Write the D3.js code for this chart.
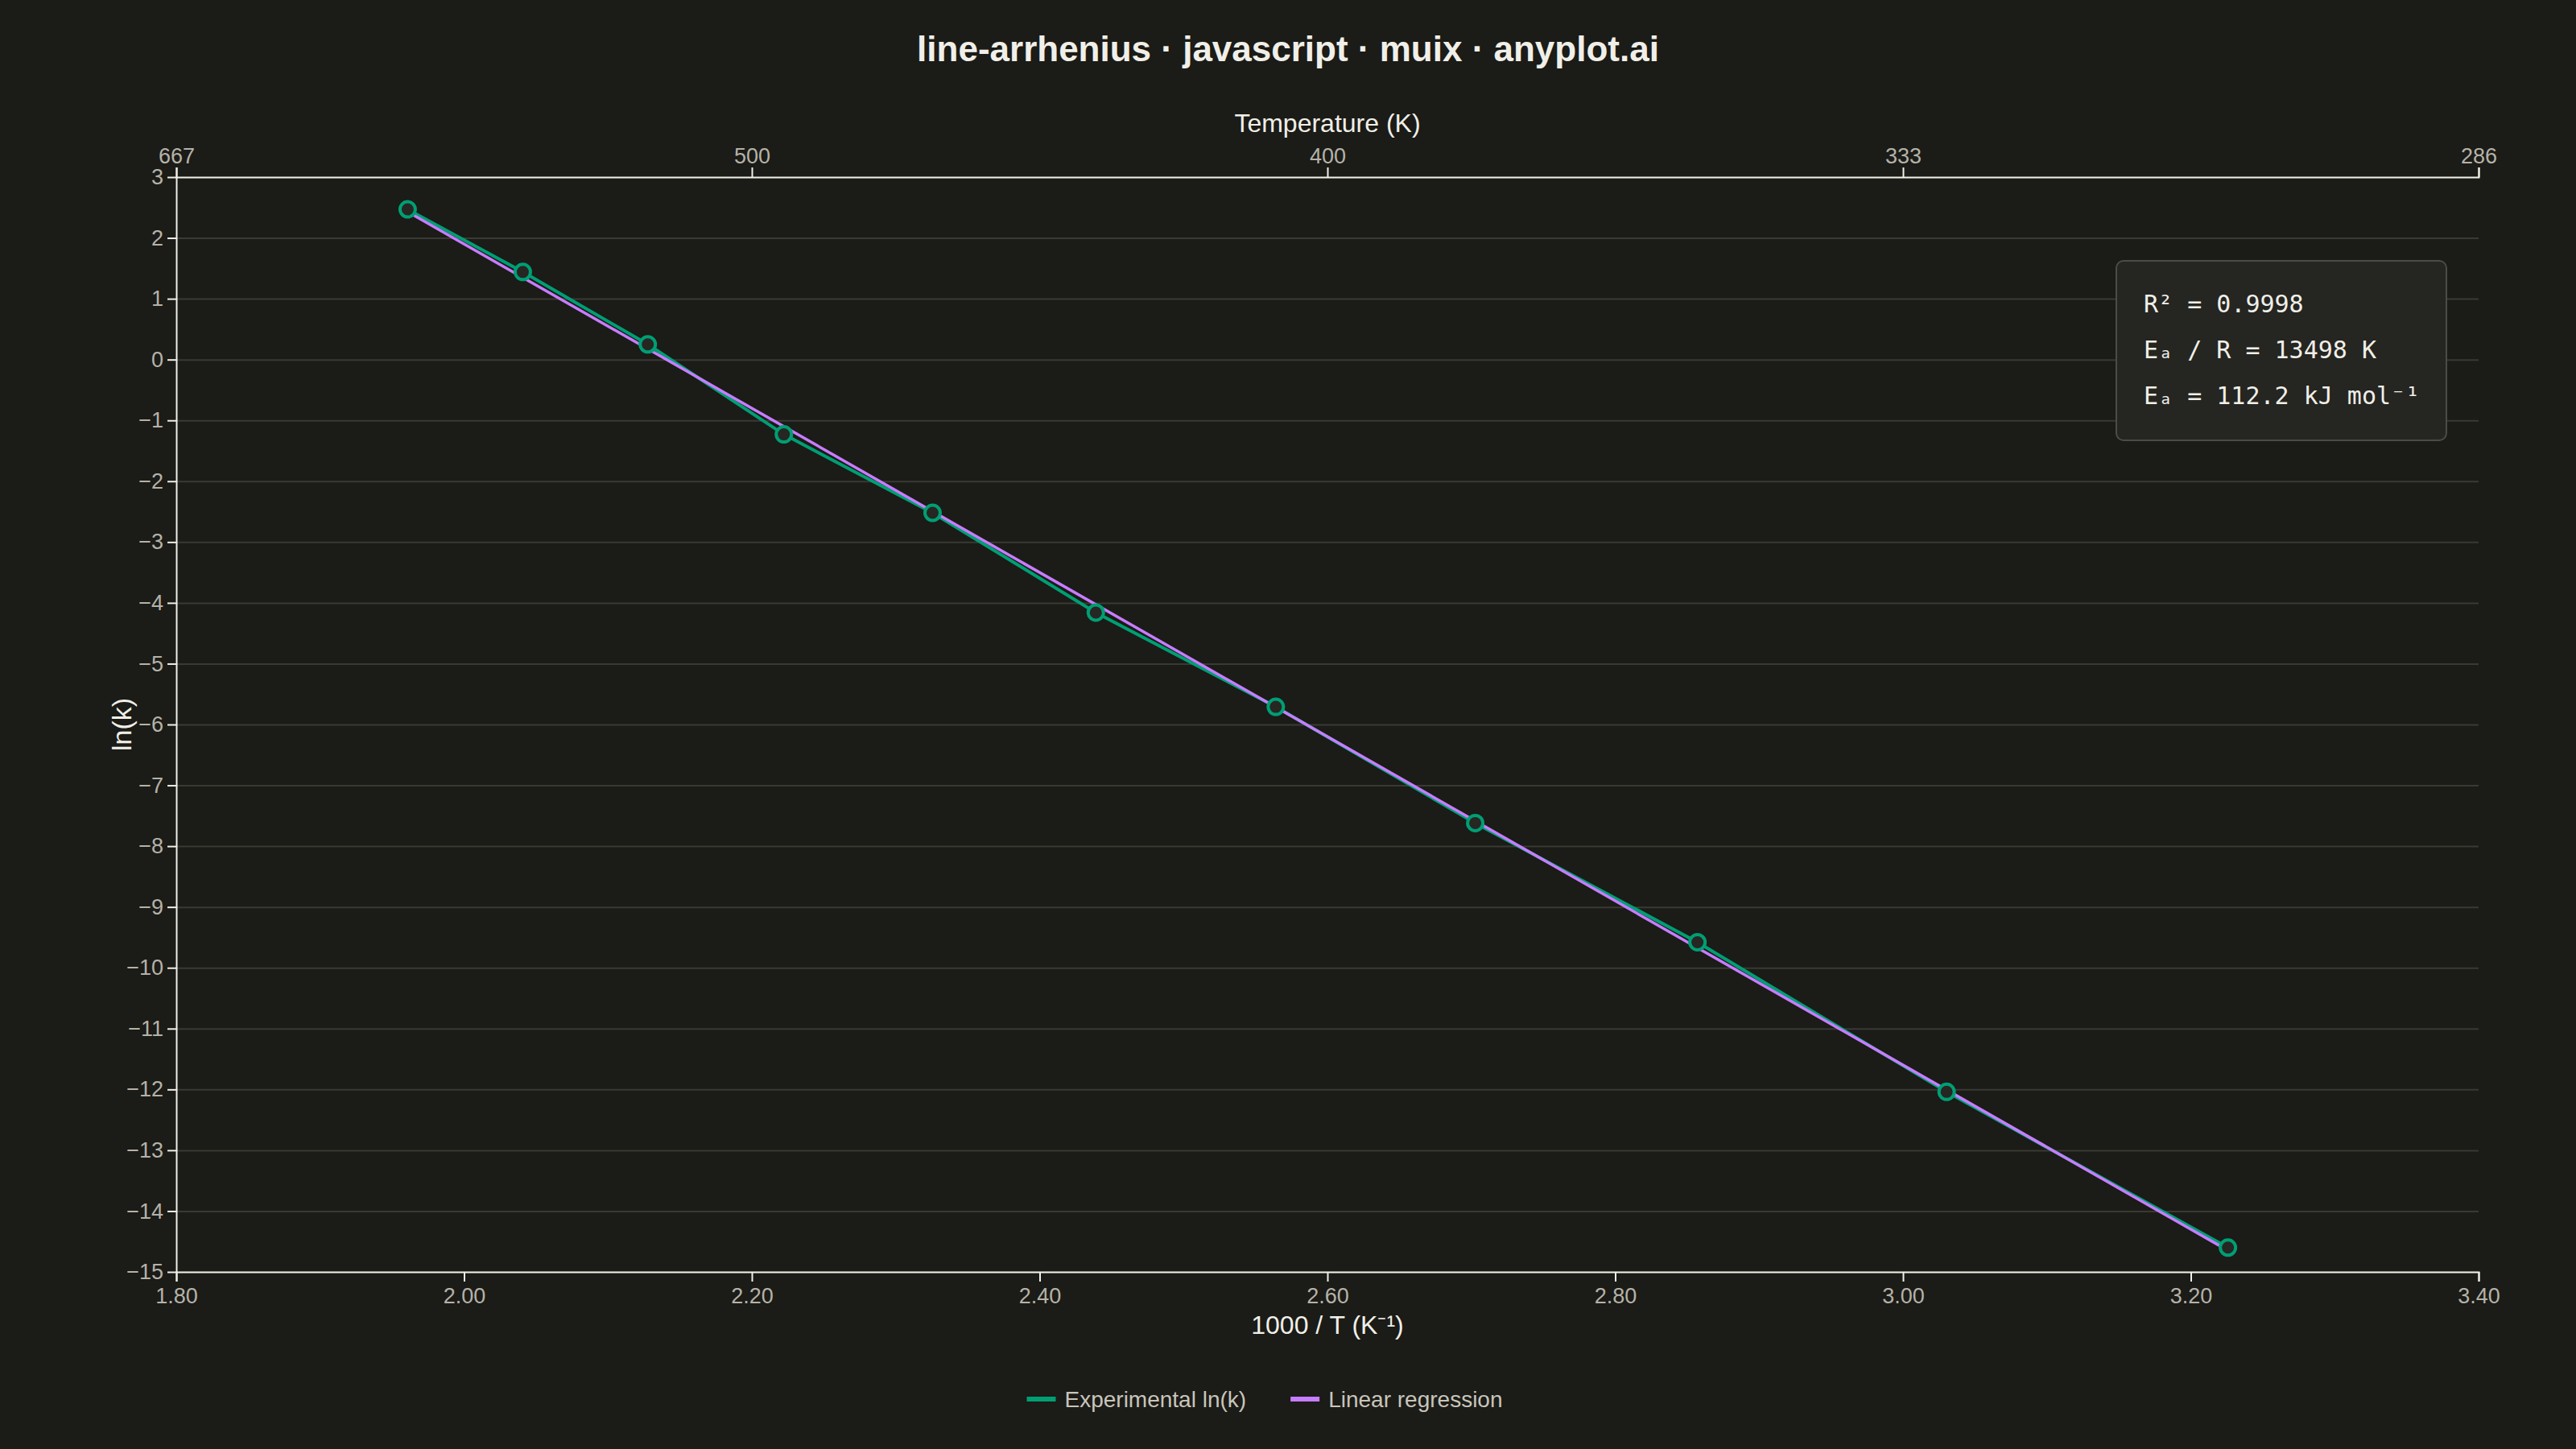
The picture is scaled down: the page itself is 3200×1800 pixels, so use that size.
<!DOCTYPE html>
<html lang="en">
<head>
    <meta charset="UTF-8">
    <title>line-arrhenius</title>
    <style>
        body {
            margin: 0;
            background-color: #1b1b17;
        }
        svg {
            display: block;
            font-family: "Liberation Sans", Arial, sans-serif;
        }
        .grid line {
            stroke: #3a3a35;
            stroke-width: 2;
        }
        .grid .domain {
            display: none;
        }
        .axis path, .axis line {
            stroke: #f0efe8;
            stroke-width: 2;
        }
        .axis text {
            fill: #b5b2a8;
            font-family: "Liberation Sans", Arial, sans-serif;
            font-size: 27px;
        }
    </style>
    <script src="https://d3js.org/d3.v7.min.js"></script>
</head>
<body>
    <svg width="3200" height="1800"></svg>

    <script>
        // Temperatures (K) and measured ln(k)
        const temperatures = [510, 490, 470, 450, 430, 410, 390, 370, 350, 330, 310];
        const lnK = [2.47, 1.44, 0.25, -1.23, -2.52, -4.16, -5.71, -7.62, -9.58, -12.04, -14.6];

        const xTicks = [1.8, 2.0, 2.2, 2.4, 2.6, 2.8, 3.0, 3.2, 3.4];
        const yTicks = d3.range(-15, 4, 1);
        const topTicks = [1.5, 2.0, 2.5, 3.0, 3.5];

        const statsLines = ["R² = 0.9998", "Eₐ / R = 13498 K", "Eₐ = 112.2 kJ mol⁻¹"];
        const legendItems = [
            { label: "Experimental ln(k)", color: "#009E73" },
            { label: "Linear regression", color: "#c77dff" }
        ];

        const width = 3200, height = 1800;
        const margin = { top: 220, right: 121, bottom: 220, left: 219 };

        const svg = d3.select("svg");

        const x = d3.scaleLinear().domain([1.8, 3.4]).range([margin.left, width - margin.right]);
        const y = d3.scaleLinear().domain([-15, 3]).range([height - margin.bottom, margin.top]);
        // top temperature axis uses its own scale
        const xTop = d3.scaleLinear().domain([1.5, 3.5]).range([margin.left, width - margin.right]);

        const points = temperatures.map((t, i) => ({ x: 1000 / t, y: lnK[i] }));

        // least squares fit
        const mx = d3.mean(points, d => d.x), my = d3.mean(points, d => d.y);
        const slope = d3.sum(points, d => (d.x - mx) * (d.y - my)) / d3.sum(points, d => (d.x - mx) ** 2);
        const intercept = my - slope * mx;
        const xExt = d3.extent(points, d => d.x);
        const fit = xExt.map(v => ({ x: v, y: intercept + slope * v }));

        // Title
        svg.append("text")
            .attr("x", width / 2)
            .attr("y", 76)
            .attr("text-anchor", "middle")
            .style("font-size", "44px")
            .style("font-weight", "bold")
            .style("fill", "#f0efe8")
            .text("line-arrhenius · javascript · muix · anyplot.ai");

        // Horizontal gridlines
        svg.append("g")
            .attr("class", "grid")
            .attr("transform", `translate(${margin.left},0)`)
            .call(d3.axisLeft(y).tickValues(yTicks).tickSize(-(width - margin.left - margin.right)).tickFormat(""));

        // Axes
        svg.append("g")
            .attr("class", "axis")
            .attr("transform", `translate(0,${height - margin.bottom})`)
            .call(d3.axisBottom(x).tickValues(xTicks).tickFormat(d3.format(".2f")).tickSize(12).tickPadding(8).tickSizeOuter(12));

        svg.append("g")
            .attr("class", "axis")
            .attr("transform", `translate(${margin.left},0)`)
            .call(d3.axisLeft(y).tickValues(yTicks).tickSize(11).tickPadding(5).tickSizeOuter(0));

        svg.append("g")
            .attr("class", "axis")
            .attr("transform", `translate(0,${margin.top})`)
            .call(d3.axisTop(xTop).tickValues(topTicks).tickFormat(d => Math.round(1000 / d)).tickSize(12).tickPadding(5).tickSizeOuter(12));

        // Axis titles
        svg.append("text")
            .attr("x", (margin.left + width - margin.right) / 2)
            .attr("y", 1657)
            .attr("text-anchor", "middle")
            .style("font-size", "32px")
            .style("fill", "#f0efe8")
            .text("1000 / T (K⁻¹)");

        svg.append("text")
            .attr("x", (margin.left + width - margin.right) / 2)
            .attr("y", 164)
            .attr("text-anchor", "middle")
            .style("font-size", "32px")
            .style("fill", "#f0efe8")
            .text("Temperature (K)");

        svg.append("text")
            .attr("transform", `translate(163,${(margin.top + height - margin.bottom) / 2}) rotate(-90)`)
            .attr("text-anchor", "middle")
            .style("font-size", "34px")
            .style("fill", "#f0efe8")
            .text("ln(k)");

        // Lines
        const line = d3.line().x(d => x(d.x)).y(d => y(d.y));

        svg.append("path")
            .datum(points)
            .attr("d", line)
            .attr("fill", "none")
            .attr("stroke", legendItems[0].color)
            .attr("stroke-width", 4);

        svg.append("path")
            .datum(fit)
            .attr("d", line)
            .attr("fill", "none")
            .attr("stroke", legendItems[1].color)
            .attr("stroke-width", 3.5);

        svg.selectAll("circle.pt")
            .data(points)
            .enter().append("circle")
            .attr("class", "pt")
            .attr("cx", d => x(d.x))
            .attr("cy", d => y(d.y))
            .attr("r", 9.5)
            .attr("fill", "#262622")
            .attr("stroke", legendItems[0].color)
            .attr("stroke-width", 4);

        // Stats box
        const box = svg.append("g").attr("transform", "translate(2629,324)");
        box.append("rect")
            .attr("width", 410)
            .attr("height", 223)
            .attr("rx", 9)
            .attr("fill", "#252521")
            .attr("stroke", "#4c4c47")
            .attr("stroke-width", 2);
        box.selectAll("text")
            .data(statsLines)
            .enter().append("text")
            .attr("x", 34)
            .attr("y", (d, i) => 64 + i * 57)
            .style("font-family", "'DejaVu Sans Mono', monospace")
            .style("font-size", "30px")
            .style("fill", "#f0efe8")
            .text(d => d);

        // Legend
        const legend = svg.append("g");
        let lx = 0;
        legendItems.forEach((item, i) => {
            const g = legend.append("g").attr("transform", `translate(${lx},0)`);
            g.append("rect")
                .attr("x", 0)
                .attr("y", -3)
                .attr("width", 36)
                .attr("height", 6)
                .attr("fill", item.color);
            const t = g.append("text")
                .attr("x", 47)
                .attr("y", 10)
                .style("font-size", "28px")
                .style("fill", "#c8c5bb")
                .text(item.label);
            lx += 47 + t.node().getComputedTextLength() + 55;
        });
        const legendWidth = lx - 55;
        legend.attr("transform", `translate(${1571 - legendWidth / 2},1738)`);
    </script>
</body>
</html>
